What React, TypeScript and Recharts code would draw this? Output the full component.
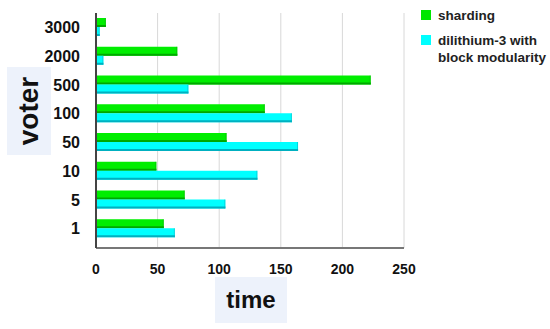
import { BarChart, Bar, XAxis, YAxis, CartesianGrid } from "recharts";

const voters = ["3000", "2000", "500", "100", "50", "10", "5", "1"];
const sharding = [8, 66, 223, 137, 106, 49, 72, 55];
const dilithium = [3, 6, 75, 159, 164, 131, 105, 64];
const timeTicks = [0, 50, 100, 150, 200, 250];

const data = voters.map((v, i) => ({ voter: v, sharding: sharding[i], dilithium: dilithium[i] }));

const font = "'Liberation Sans', Arial, sans-serif";

function Bar3d(dark: string) {
    return (props: any) => {
        const { x, y, width, height, fill } = props;
        if (!width || width <= 0) return null;
        return (
            <g>
                <rect x={x} y={y} width={width} height={height} fill={fill} />
                <rect x={x} y={y + height - 2} width={width} height={2} fill={dark} />
                <rect x={x + width - 1} y={y} width={1} height={height} fill={dark} opacity={0.5} />
            </g>
        );
    };
}

function LegendBox() {
    const items = [
        { color: "#00e600", lines: ["sharding"] },
        { color: "#00ffff", lines: ["dilithium-3 with", "block modularity"] },
    ];
    return (
        <div style={{ position: "absolute", left: 421, top: 7, fontFamily: font, fontWeight: "bold", fontSize: 13.5, color: "#222" }}>
            {items.map((it) => (
                <div key={it.lines[0]} style={{ display: "flex", alignItems: "flex-start", marginBottom: 8 }}>
                    <div style={{ width: 10, height: 10, background: it.color, marginTop: 3, marginRight: 7 }} />
                    <div style={{ lineHeight: "17px" }}>
                        {it.lines.map((l) => (
                            <div key={l}>{l}</div>
                        ))}
                    </div>
                </div>
            ))}
        </div>
    );
}

export default function App() {
    return (
        <div style={{ position: "absolute", left: 0, top: 0, width: 550, height: 329, background: "#fff" }}>
            <BarChart
                width={550}
                height={329}
                data={data}
                layout="vertical"
                margin={{ top: 13, right: 146, bottom: 51, left: 0 }}
                barGap={0}
                barSize={9}
            >
                <CartesianGrid horizontal={false} stroke="#d8d8d8" />
                <XAxis
                    type="number"
                    domain={[0, 250]}
                    ticks={timeTicks}
                    height={30}
                    tickLine={false}
                    tickMargin={10}
                    axisLine={{ stroke: "#777", strokeWidth: 2 }}
                    tick={{ fill: "#111", fontSize: 14, fontWeight: "bold", fontFamily: font }}
                />
                <YAxis
                    type="category"
                    dataKey="voter"
                    width={96}
                    padding={{ top: 0, bottom: 5 }}
                    tickLine={false}
                    tickMargin={10}
                    axisLine={{ stroke: "#444", strokeWidth: 2 }}
                    tick={{ fill: "#111", fontSize: 16, fontWeight: "bold", fontFamily: font }}
                />
                <Bar dataKey="sharding" fill="#00ee00" shape={Bar3d("#00a800")} isAnimationActive={false} />
                <Bar dataKey="dilithium" fill="#00ffff" shape={Bar3d("#00b0c0")} isAnimationActive={false} />
            </BarChart>
            <LegendBox />
            <div
                style={{
                    position: "absolute", left: 7, top: 67, width: 44, height: 88, background: "#edf2fb",
                    display: "flex", alignItems: "center", justifyContent: "center",
                }}
            >
                <div style={{ transform: "rotate(-90deg)", fontFamily: font, fontWeight: "bold", fontSize: 28, color: "#111" }}>
                    voter
                </div>
            </div>
            <div
                style={{
                    position: "absolute", left: 215, top: 277, width: 72, height: 46, background: "#edf2fb",
                    display: "flex", alignItems: "center", justifyContent: "center",
                    fontFamily: font, fontWeight: "bold", fontSize: 24, color: "#111",
                }}
            >
                time
            </div>
        </div>
    );
}
